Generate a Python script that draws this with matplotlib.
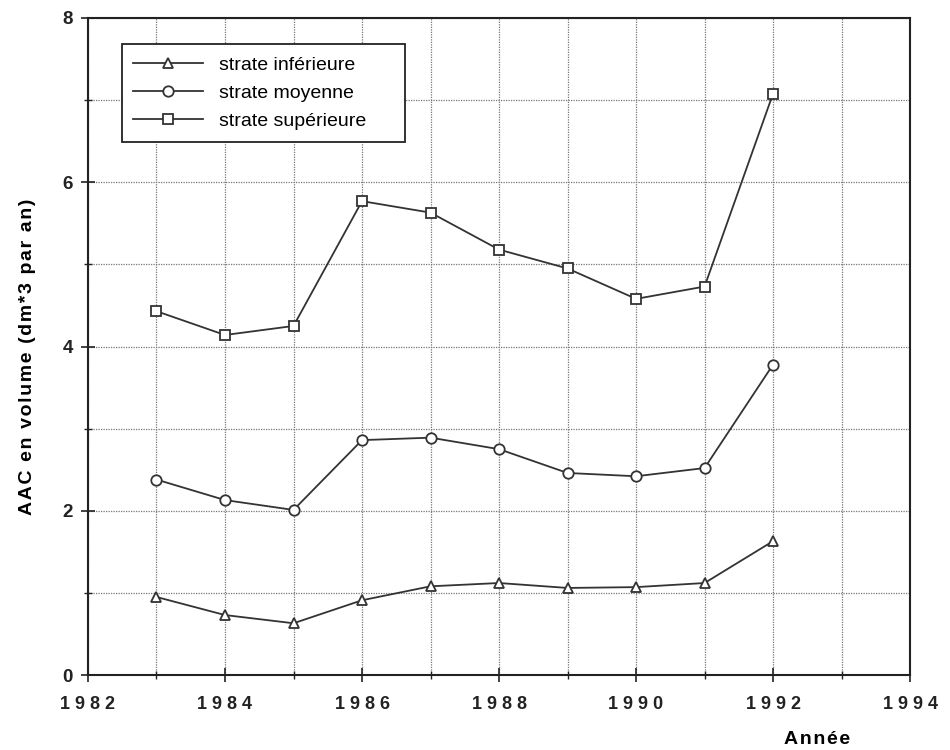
import matplotlib
matplotlib.use("Agg")
import matplotlib.pyplot as plt
from matplotlib.ticker import MultipleLocator

years = [1983, 1984, 1985, 1986, 1987, 1988, 1989, 1990, 1991, 1992]
inferieure = [0.95, 0.73, 0.63, 0.91, 1.08, 1.12, 1.06, 1.07, 1.12, 1.63]
moyenne = [2.38, 2.13, 2.01, 2.86, 2.89, 2.75, 2.46, 2.42, 2.52, 3.78]
superieure = [4.43, 4.14, 4.25, 5.77, 5.63, 5.18, 4.95, 4.58, 4.73, 7.08]
labels = ["strate inférieure", "strate moyenne", "strate supérieure"]
xtick_labels = ["1982", "1984", "1986", "1988", "1990", "1992", "1994"]

plt.rcParams['font.family'] = ['Liberation Sans', 'DejaVu Sans']

def spaced(s, sep="\u200a"):
    return sep.join(s)

fig = plt.figure(figsize=(9.5, 7.5), dpi=100)
ax = fig.add_axes([0.0926, 0.1, 0.8654, 0.876])

c = '#333333'
kw = dict(color=c, linewidth=1.3, markerfacecolor='white', markeredgecolor=c,
          markeredgewidth=1.3)
ax.plot(years, inferieure, marker='^', markersize=7.5, label=labels[0], **kw)
ax.plot(years, moyenne, marker='o', markersize=7.5, label=labels[1], **kw)
ax.plot(years, superieure, marker='s', markersize=7.5, label=labels[2], **kw)

ax.set_xlim(1982, 1994)
ax.set_ylim(0, 8)
ax.xaxis.set_minor_locator(MultipleLocator(1))
ax.yaxis.set_major_locator(MultipleLocator(2))
ax.yaxis.set_minor_locator(MultipleLocator(1))
ax.grid(which='both', color='#777777', linestyle=(0, (1, 1)), linewidth=0.9)
ax.set_axisbelow(True)
ax.tick_params(which='major', direction='inout', length=10, width=1.2, colors='#222222',
               labelsize=13.5, pad=6)
ax.tick_params(axis='x', which='major', pad=10)
ax.tick_params(which='minor', direction='inout', length=6, width=1.0, colors='#222222')
ax.set_xticks([int(v) for v in xtick_labels])
ax.set_xticklabels([" ".join(v) for v in xtick_labels], fontweight='bold', fontsize=13)
for lbl in ax.get_yticklabels():
    lbl.set_fontweight('bold')
for s in ax.spines.values():
    s.set_linewidth(1.5)
    s.set_color('#222222')

ax.set_ylabel(spaced("AAC en volume (dm*3 par an)"), fontsize=14, fontweight='bold')
ax.yaxis.set_label_coords(-0.0636, 0.485)
fig.text(0.86, 0.003, spaced("Année"), fontsize=14, fontweight='bold', ha='center', va='bottom')

leg = ax.legend(loc='upper left', bbox_to_anchor=(0.041, 0.96), fontsize=14,
                frameon=True, fancybox=False, edgecolor='#222222', framealpha=1,
                handlelength=3.6, borderpad=0.6, labelspacing=0.55, handletextpad=0.8,
                borderaxespad=0)
for t in leg.get_texts():
    t.set_text(t.get_text() + "     ")
leg.get_frame().set_linewidth(1.3)

fig.savefig("out.png", dpi=100)
